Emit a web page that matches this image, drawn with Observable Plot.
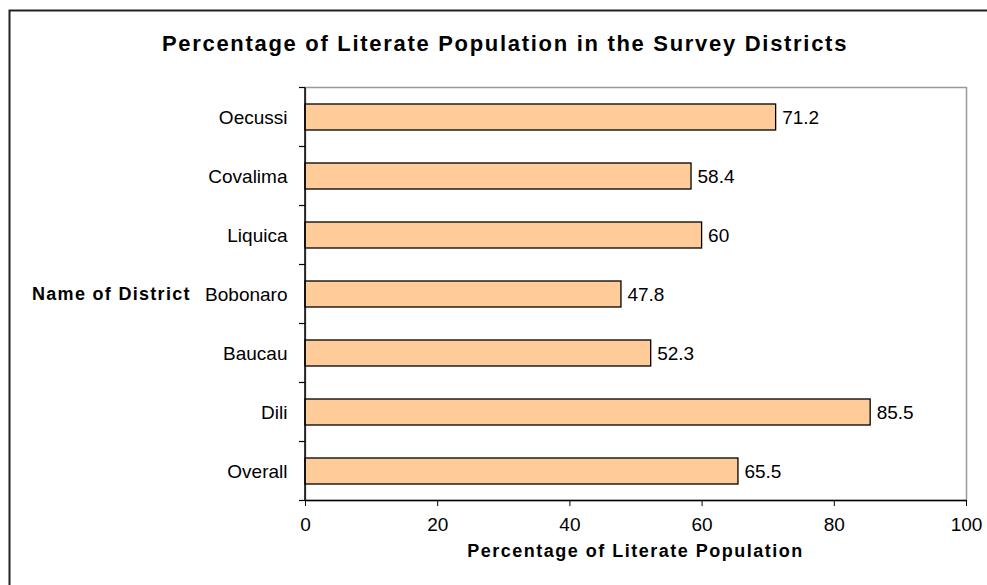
<!DOCTYPE html>
<html>
<head>
<meta charset="utf-8">
<script src="https://cdn.jsdelivr.net/npm/d3@7"></script>
<script src="https://cdn.jsdelivr.net/npm/@observablehq/plot@0.6"></script>
<style>
  html, body { margin: 0; padding: 0; background: #fff; }
  svg { display: block; font-family: "Liberation Sans", Arial, sans-serif; }
</style>
</head>
<body>
<div id="chart"></div>
<script>
const districts = ["Oecussi", "Covalima", "Liquica", "Bobonaro", "Baucau", "Dili", "Overall"];
const literacy = [71.2, 58.4, 60, 47.8, 52.3, 85.5, 65.5];
const xTicks = [0, 20, 40, 60, 80, 100];
const titleText = "Percentage of Literate Population in the Survey Districts";
const xLabel = "Percentage of Literate Population";
const yLabel = "Name of District";

const data = districts.map((d, i) => ({district: d, value: literacy[i]}));

const chart = Plot.plot({
  width: 987,
  height: 585,
  marginLeft: 305,
  marginRight: 21,
  marginTop: 87,
  marginBottom: 85,
  style: {fontFamily: "'Liberation Sans', Arial, sans-serif", fontSize: "19px", color: "#000", background: "#fff"},
  x: {domain: [0, 100], label: null},
  y: {domain: districts, paddingInner: 0.565, paddingOuter: 0.2825, label: null},
  marks: [
    Plot.frame({stroke: "#999", strokeWidth: 1.5}),
    Plot.barX(data, {x: "value", y: "district", fill: "#FFCC99", stroke: "#000", strokeWidth: 1.3}),
    Plot.text(data, {x: "value", y: "district", text: d => String(d.value), textAnchor: "start", dx: 6, fontSize: 19, fill: "#000"}),
    Plot.axisX({ticks: xTicks, tickSize: 6, tickPadding: 11, fontSize: 19, stroke: "#000", label: null, tickFormat: d => String(d)}),
    Plot.axisY({tickSize: 0, tickPadding: 18, fontSize: 19, label: null})
  ]
});

const svg = d3.select(chart);
const xs = chart.scale("x");
const ys = chart.scale("y");
const x0 = xs.apply(0), x1 = xs.apply(100);
const step = ys.step;
const yTop = ys.apply(districts[0]) - (step - ys.bandwidth) / 2;
const yBot = yTop + step * districts.length;

// axis lines
svg.append("line").attr("x1", x0).attr("x2", x0).attr("y1", yTop).attr("y2", yBot)
  .attr("stroke", "#000").attr("stroke-width", 1.5);
svg.append("line").attr("x1", x0).attr("x2", x1).attr("y1", yBot).attr("y2", yBot)
  .attr("stroke", "#000").attr("stroke-width", 1.5);
// band boundary ticks on y axis
for (let i = 0; i <= districts.length; i++) {
  const yy = yTop + i * step;
  svg.append("line").attr("x1", x0 - 6).attr("x2", x0).attr("y1", yy).attr("y2", yy)
    .attr("stroke", "#000").attr("stroke-width", 1.2);
}
// outer border
svg.append("path").attr("d", "M9.5,585 V10.5 H987").attr("fill", "none")
  .attr("stroke", "#222").attr("stroke-width", 2);
// title
svg.append("text").attr("x", 505).attr("y", 51).attr("text-anchor", "middle")
  .attr("font-size", 22).attr("font-weight", "bold").attr("letter-spacing", "1.7px").text(titleText);
// x axis label
svg.append("text").attr("x", (x0 + x1) / 2).attr("y", 557).attr("text-anchor", "middle")
  .attr("font-size", 18).attr("font-weight", "bold").attr("letter-spacing", "1.5px").text(xLabel);
// y axis label
svg.append("text").attr("x", 32).attr("y", ys.apply("Bobonaro") + ys.bandwidth / 2).attr("dy", "0.35em")
  .attr("text-anchor", "start").attr("font-size", 18).attr("font-weight", "bold").attr("letter-spacing", "1.3px").text(yLabel);

document.getElementById("chart").appendChild(chart);
</script>
</body>
</html>
